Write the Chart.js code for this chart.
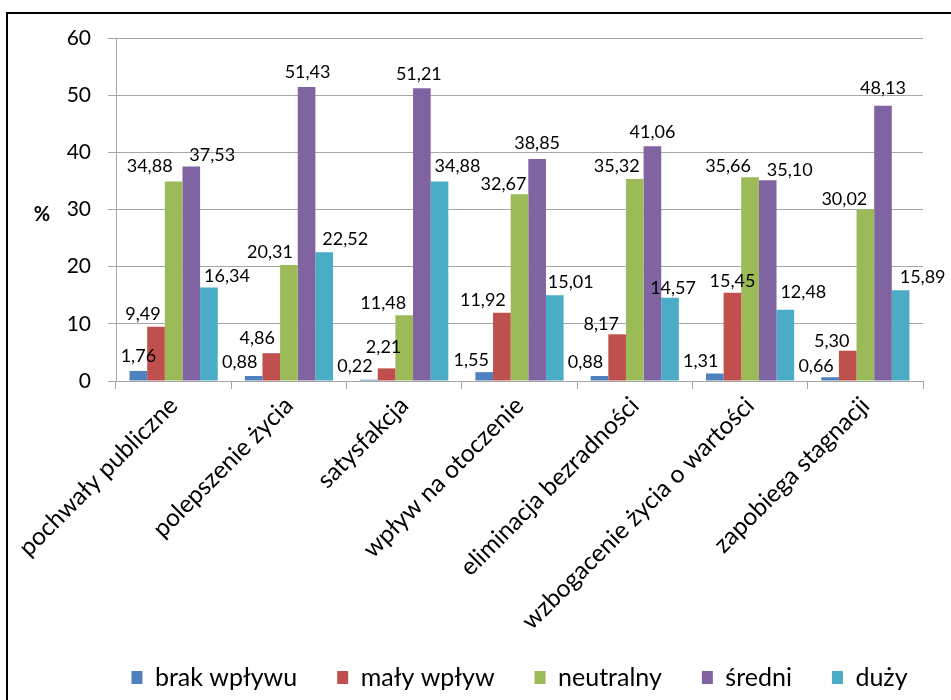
<!DOCTYPE html>
<html>
<head>
<meta charset="utf-8">
<script src="https://cdn.jsdelivr.net/npm/chart.js@4/dist/chart.umd.min.js"></script>
<style>
  html, body { margin: 0; padding: 0; background: #fff; }
  #box { position: absolute; left: 0; top: 0; width: 951px; height: 700px; }
</style>
</head>
<body>
<div id="box"><canvas id="myChart" width="951" height="700"></canvas></div>
<script>
const kategorie = ['pochwały publiczne', 'polepszenie życia', 'satysfakcja', 'wpływ na otoczenie',
    'eliminacja bezradności', 'wzbogacenie życia o wartości', 'zapobiega stagnacji'];
const serie = ['brak wpływu', 'mały wpływ', 'neutralny', 'średni', 'duży'];
const brakWplywu = [1.76, 0.88, 0.22, 1.55, 0.88, 1.31, 0.66];
const malyWplyw = [9.49, 4.86, 2.21, 11.92, 8.17, 15.45, 5.30];
const neutralny = [34.88, 20.31, 11.48, 32.67, 35.32, 35.66, 30.02];
const sredni = [37.53, 51.43, 51.21, 38.85, 41.06, 35.10, 48.13];
const duzy = [16.34, 22.52, 34.88, 15.01, 14.57, 12.48, 15.89];
const yTicks = [0, 10, 20, 30, 40, 50, 60];

const colors = ['#4F81BD', '#C0504D', '#9BBB59', '#8064A2', '#4BACC6'];

// labels were nudged by hand in the original, [dx, dy] per category / series
const labelShift = [
    [[0, -2], [-13, 0], [-24, -3], [21, 2], [18, 1]],
    [[-14, -1], [-14, -2], [-19, 0], [1, -2], [21, 0]],
    [[-14, -1], [-3, -8], [-21, 1], [-3, -1], [18, -3]],
    [[-13, 1], [-19, 0], [-16, 3], [0, -3], [16, 0]],
    [[-14, -1], [-16, 3], [-18, 0], [0, -1], [3, 3]],
    [[-14, 0], [0, 1], [-22, 2], [22, 3], [18, -5]],
    [[-14, 2], [-16, 3], [-21, 3], [0, -5], [22, 0]]
];

const FONT = 'Lato, "Open Sans", sans-serif';
const GRID = '#a6a6a6';

function fmt(v){
    return v.toFixed(2).replace('.', ',');
}

const ramka = {
    id: 'ramka',
    afterLayout(chart){
        // legend centred under the plot area, not the whole canvas
        let lg = chart.legend;
        let shift = (chart.chartArea.left + chart.chartArea.right) / 2 - (lg.left + lg.right) / 2;
        lg.left += shift;
        lg.right += shift;
        // long rotated labels run down beside the legend, don't clip them
        chart.scales.x.bottom = chart.height;
    },
    beforeDraw(chart){
        let ctx = chart.ctx;
        ctx.save();
        ctx.fillStyle = '#fff';
        ctx.fillRect(0, 0, chart.width, chart.height);
        ctx.strokeStyle = '#000';
        ctx.lineWidth = 2;
        ctx.strokeRect(7, 13, chart.width + 10, chart.height + 10);
        ctx.restore();
    }
};

const etykiety = {
    id: 'etykiety',
    afterDatasetsDraw(chart){
        let ctx = chart.ctx;
        ctx.save();
        ctx.font = '18px ' + FONT;
        ctx.fillStyle = '#000';
        ctx.textAlign = 'center';
        ctx.textBaseline = 'alphabetic';
        chart.data.datasets.forEach((ds, i) => {
            chart.getDatasetMeta(i).data.forEach((bar, j) => {
                let s = labelShift[j][i];
                ctx.fillText(fmt(ds.data[j]), bar.x + s[0], bar.y - 7 + s[1]);
            });
        });
        // "%" axis title, horizontal like in Excel
        let y = chart.scales.y;
        ctx.font = 'bold 20px ' + FONT;
        ctx.fillText('%', 42, y.getPixelForValue(30) + 11);
        ctx.restore();
    }
};

var myChart = null;

function chart(){
    let ctx = document.getElementById('myChart').getContext('2d');
    let values = [brakWplywu, malyWplyw, neutralny, sredni, duzy];

    myChart = new Chart(ctx, {
        type: 'bar',
        data: {
            labels: kategorie,
            datasets: serie.map((name, i) => ({
                label: name,
                data: values[i],
                backgroundColor: colors[i],
                borderWidth: 0,
                categoryPercentage: 0.765,
                barPercentage: 1
            }))
        },
        plugins: [ramka, etykiety],
        options: {
            responsive: false,
            animation: false,
            layout: {
                padding: { left: 10, right: 28, top: 38, bottom: 0 }
            },
            plugins: {
                legend: {
                    position: 'bottom',
                    labels: {
                        boxWidth: 11,
                        boxHeight: 13,
                        padding: 40,
                        color: '#000',
                        font: { family: FONT, size: 25 }
                    }
                },
                tooltip: { enabled: false }
            },
            scales: {
                x: {
                    grid: {
                        offset: true,
                        drawOnChartArea: false,
                        drawTicks: true,
                        tickLength: 8,
                        color: GRID
                    },
                    border: { color: GRID },
                    ticks: {
                        color: '#000',
                        maxRotation: 45,
                        minRotation: 45,
                        padding: 2,
                        font: { family: FONT, size: 24.5 }
                    },
                    afterFit(scale){
                        scale.height = 244;
                        scale.paddingLeft = 0;
                        scale.paddingRight = 0;
                    }
                },
                y: {
                    min: 0,
                    max: 60,
                    afterBuildTicks(scale){
                        scale.ticks = yTicks.map(v => ({ value: v }));
                    },
                    grid: {
                        color: GRID,
                        tickLength: 8
                    },
                    border: { color: GRID },
                    ticks: {
                        color: '#000',
                        padding: 17,
                        font: { family: FONT, size: 21 }
                    },
                    afterFit(scale){
                        scale.width = 106;
                    }
                }
            }
        }
    });
}

chart();
</script>
</body>
</html>
